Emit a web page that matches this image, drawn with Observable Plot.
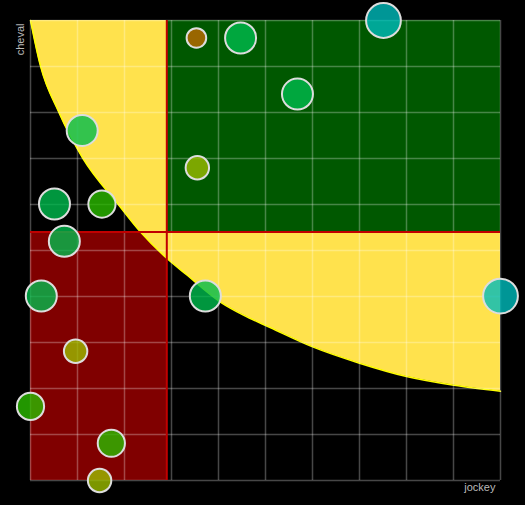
<!DOCTYPE html>
<html>
<head>
<meta charset="utf-8">
<script src="https://cdn.jsdelivr.net/npm/d3@7"></script>
<script src="https://cdn.jsdelivr.net/npm/@observablehq/plot@0.6"></script>
<style>
  html, body { margin: 0; padding: 0; background: #000; }
  #chart { width: 525px; height: 505px; }
</style>
</head>
<body>
<div id="chart"></div>
<script>
// Bubbles: jockey (x), cheval (y), note (drives colour and size)
const jockey = [3.53, 4.47, 7.51, 5.68, 1.10, 3.55, 0.51, 1.52, 0.72, 0.23, 3.72, 10.0, 0.96, 0.0, 1.72, 1.47];
const cheval = [9.62, 9.62, 10.0, 8.40, 7.61, 6.80, 6.01, 6.01, 5.20, 4.01, 4.01, 4.01, 2.81, 1.61, 0.81, 0.0];
const note   = [0, 3, 4, 3, 3, 1, 3, 2, 3, 3, 3, 4, 1, 2, 2, 1];

// Frontier curve (yellow area above it)
const curveJockey = [0, 0.21, 0.60, 1.11, 1.86, 2.34, 2.91, 3.30, 4.04, 4.54, 5.11, 5.99, 7.0, 8.0, 9.01, 10];
const curveCheval = [10, 9.02, 8.01, 7.01, 6.01, 5.40, 4.82, 4.49, 3.88, 3.59, 3.32, 2.91, 2.55, 2.26, 2.07, 1.94];

// Quadrant thresholds and domain
const jockeySplit = 2.9;
const chevalSplit = 5.4;
const domainMin = 0, domainMax = 10;

const points = jockey.map((x, i) => ({jockey: x, cheval: cheval[i], note: note[i]}));
const frontier = curveJockey.map((x, i) => ({jockey: x, cheval: curveCheval[i]}));

const chart = Plot.plot({
  width: 525,
  height: 505,
  marginLeft: 30,
  marginRight: 25,
  marginTop: 20,
  marginBottom: 25,
  style: {background: "#000", color: "#bbb", fontFamily: "Liberation Sans, Arial, sans-serif", fontSize: "11px"},
  x: {domain: [domainMin, domainMax], axis: null},
  y: {domain: [domainMin, domainMax], axis: null},
  r: {type: "linear", domain: [0, 4], range: [9.8, 17.4]},
  color: {type: "ordinal", domain: [0, 1, 2, 3, 4], range: ["#bf6a00", "#9bbb00", "#2abb00", "#00bb4e", "#00bbbb"]},
  marks: [
    Plot.rect([0], {x1: domainMin, x2: jockeySplit, y1: domainMin, y2: chevalSplit, fill: "#800000"}),
    Plot.areaY(frontier, {x: "jockey", y1: "cheval", y2: domainMax, fill: "#ffe24d", curve: "monotone-x"}),
    Plot.line(frontier, {x: "jockey", y: "cheval", stroke: "#ffff00", strokeWidth: 1.5, curve: "monotone-x"}),
    Plot.rect([0], {x1: jockeySplit, x2: domainMax, y1: chevalSplit, y2: domainMax, fill: "#005800"}),
    Plot.gridX(d3.range(domainMin, domainMax + 1), {stroke: "#fff", strokeOpacity: 0.28, strokeWidth: 1.5}),
    Plot.gridY(d3.range(domainMin, domainMax + 1), {stroke: "#fff", strokeOpacity: 0.28, strokeWidth: 1.5}),
    Plot.ruleX([jockeySplit], {y1: domainMin, y2: domainMax, stroke: "#c00000", strokeWidth: 2}),
    Plot.ruleY([chevalSplit], {x1: domainMin, x2: domainMax, stroke: "#c00000", strokeWidth: 2}),
    Plot.dot(points, {x: "jockey", y: "cheval", r: "note", fill: "note", fillOpacity: 0.8, stroke: "#dddddd", strokeWidth: 2}),
    Plot.text(["cheval"], {frameAnchor: "top-left", rotate: -90, textAnchor: "end", dx: -14, dy: 3, fill: "#bbb", fontSize: 11}),
    Plot.text(["jockey"], {frameAnchor: "bottom-right", textAnchor: "end", dx: -5, dy: 10, fill: "#bbb", fontSize: 11})
  ]
});
document.getElementById("chart").appendChild(chart);
</script>
</body>
</html>
